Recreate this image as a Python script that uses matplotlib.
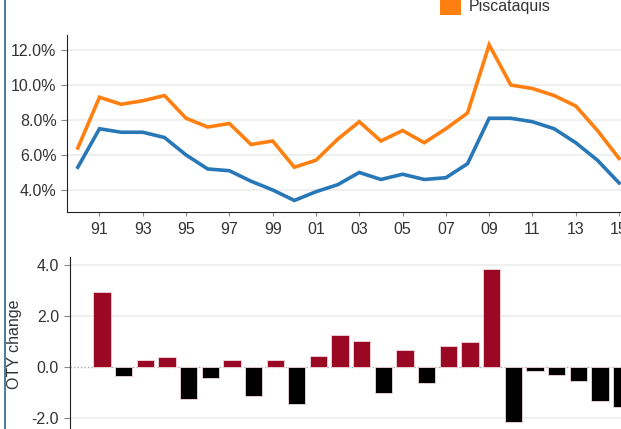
import matplotlib.pyplot as plt
from matplotlib.lines import Line2D
from matplotlib.patches import Rectangle

plt.rcParams["font.family"] = ["Liberation Sans", "DejaVu Sans"]
plt.rcParams["font.size"] = 11.5

W, H = 621, 429

years = list(range(1990, 2016))
maine = [5.3, 7.5, 7.3, 7.3, 7.0, 6.0, 5.2, 5.1, 4.5, 4.0, 3.4, 3.9, 4.3,
         5.0, 4.6, 4.9, 4.6, 4.7, 5.5, 8.1, 8.1, 7.9, 7.5, 6.7, 5.7, 4.4]
piscataquis = [6.4, 9.3, 8.9, 9.1, 9.4, 8.1, 7.6, 7.8, 6.6, 6.8, 5.3, 5.7, 6.9,
               7.9, 6.8, 7.4, 6.7, 7.5, 8.4, 12.3, 10.0, 9.8, 9.4, 8.8, 7.4, 5.8]
change_years = list(range(1991, 2016))
oty_change = [2.95, -0.35, 0.25, 0.37, -1.29, -0.46, 0.25, -1.17, 0.25, -1.47,
              0.41, 1.25, 1.02, -1.05, 0.66, -0.64, 0.83, 0.96, 3.85, -2.19,
              -0.17, -0.34, -0.57, -1.34, -1.57]

year_ticks = list(range(1991, 2016, 2))
year_labels = [f"{y % 100:02d}" for y in year_ticks]

BLUE = "#2878b8"
ORANGE = "#ff8011"
RED = "#9b0824"
GRID = "#ececec"
TEXT = "#333333"
PX_PER_YEAR = 21.65


def px_axes(fig, left, top, bottom, x0, x1):
    """Place an axes using pixel edges (top-down coordinates)."""
    width = (x1 - x0) * PX_PER_YEAR
    return fig.add_axes([left / W, 1 - bottom / H, width / W, (bottom - top) / H])


def style(ax):
    ax.spines["top"].set_visible(False)
    ax.spines["right"].set_visible(False)
    ax.spines["left"].set_color("#222222")
    ax.spines["bottom"].set_color("#222222")
    ax.tick_params(colors="#888888", labelcolor=TEXT, length=4, width=0.8)
    ax.set_axisbelow(True)
    ax.grid(axis="y", color=GRID, lw=1.2)


fig = plt.figure(figsize=(W / 100, H / 100), dpi=100)

# unemployment rate lines
ax1 = px_axes(fig, 67, 35, 212, 1989.5, 2016.5)
style(ax1)
ax1.plot(years, maine, color=BLUE, lw=2.6, solid_joinstyle="miter")
ax1.plot(years, piscataquis, color=ORANGE, lw=2.6, solid_joinstyle="miter")
ax1.set_xlim(1989.5, 2016.5)
ax1.set_ylim(2.74, 12.86)
ax1.set_yticks([4, 6, 8, 10, 12])
ax1.set_yticklabels([f"{v:.1f}%" for v in [4, 6, 8, 10, 12]])
ax1.set_xticks(year_ticks)
ax1.set_xticklabels(year_labels)
ax1.tick_params(axis="x", length=3, pad=4)

# over-the-year change bars
ax2 = px_axes(fig, 69.5, 256.7, 445, 1989.5, 2016.5)
style(ax2)
colors = [RED if v > 0 else "black" for v in oty_change]
ax2.bar(change_years, oty_change, width=0.8, color=colors,
        edgecolor="#f2d8dc", lw=0.6)
ax2.axhline(0, color="#aaaaaa", ls=(0, (1, 1.5)), lw=1, zorder=0.5)
ax2.set_xlim(1989.5, 2016.5)
ax2.set_ylim(-3.08, 4.32)
ax2.set_yticks([-2, 0, 2, 4])
ax2.set_yticklabels([f"{v:.1f}" for v in [-2, 0, 2, 4]])
ax2.yaxis.grid(True, color=GRID, lw=1.2)
ax2.get_ygridlines()[1].set_visible(False)
ax2.set_xticks([])
ax2.spines["bottom"].set_visible(False)

fig.text(15 / W, 1 - 344 / H, "OTY change", rotation=90,
         ha="center", va="center", color=TEXT)

# legend entry (partially cut at the top)
fig.add_artist(Rectangle((440 / W, 1 - 15 / H), 21 / W, 21 / H,
                         transform=fig.transFigure, color=ORANGE, lw=0))
fig.text(469 / W, 1 - 6 / H, "Piscataquis", ha="left", va="center", color=TEXT)

# panel border on the left
fig.add_artist(Line2D([4.5 / W, 4.5 / W], [0, 1], transform=fig.transFigure,
                      color="#3e6f96", lw=1.3))

fig.savefig("out.png", dpi=100)
